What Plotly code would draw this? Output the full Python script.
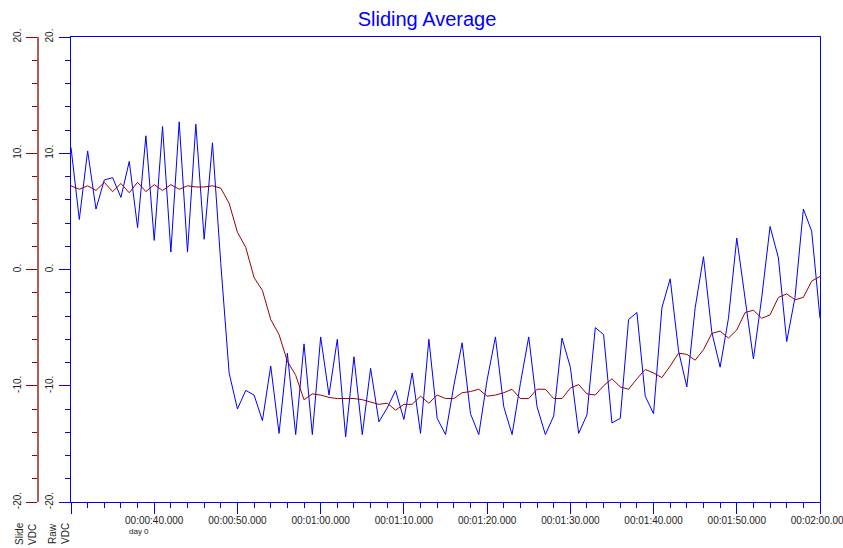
import plotly.graph_objects as go

# Sample times in seconds (one sample per second)
seconds = list(range(30, 121))

# Raw voltage readings (VDC)
raw_vdc = [
    10.5, 4.3, 10.2, 5.2, 7.7, 7.9, 6.2, 9.3, 3.6, 11.5,
    2.5, 12.3, 1.5, 12.7, 1.5, 12.5, 2.6, 10.9, 0.5, -8.9,
    -12.0, -10.4, -10.8, -13.0, -8.3, -14.1, -7.2, -14.2, -6.4, -14.2,
    -5.8, -10.8, -6.0, -14.4, -7.5, -14.2, -8.5, -13.1, -11.9, -10.4,
    -12.9, -8.9, -14.1, -6.0, -12.8, -14.2, -10.0, -6.3, -12.4, -14.2,
    -9.5, -5.8, -11.8, -14.2, -9.8, -5.8, -11.8, -14.2, -12.6, -5.9,
    -8.4, -14.1, -12.5, -5.0, -5.6, -13.2, -12.8, -4.3, -3.7, -10.9,
    -12.4, -3.3, -0.8, -7.0, -10.1, -3.3, 1.1, -5.4, -8.4, -4.2,
    2.7, -2.7, -7.7, -2.4, 3.7, 1.0, -6.2, -2.4, 5.2, 3.3,
    -4.2,
]

# Sliding average of the raw readings (VDC)
slide_vdc = [
    7.2, 6.9, 7.2, 6.8, 7.5, 6.7, 7.4, 6.6, 7.5, 6.7,
    7.3, 6.8, 7.3, 6.9, 7.2, 7.1, 7.1, 7.2, 7.0, 5.7,
    3.2, 1.9, -0.7, -1.8, -4.3, -5.6, -7.9, -9.1, -11.2, -10.7,
    -10.8, -11.0, -11.1, -11.1, -11.1, -11.2, -11.4, -11.6, -11.5, -12.1,
    -11.6, -11.6, -10.9, -11.5, -10.8, -11.1, -11.1, -10.6, -10.5, -10.3,
    -10.9, -10.8, -10.6, -10.3, -11.1, -11.1, -10.3, -10.3, -11.1, -11.1,
    -10.2, -9.9, -10.7, -10.8, -10.0, -9.4, -10.1, -10.3, -9.4, -8.6,
    -8.9, -9.3, -8.3, -7.2, -7.3, -7.8, -6.9, -5.5, -5.3, -5.9,
    -5.2, -3.7, -3.5, -4.2, -3.9, -2.4, -2.1, -2.6, -2.4, -1.0,
    -0.6,
]

# Axis ticks and labels
x_tick_values = [30, 40, 50, 60, 70, 80, 90, 100, 110, 120]
x_tick_labels = ["", "00:00:40.000", "00:00:50.000", "00:01:00.000",
                 "00:01:10.000", "00:01:20.000", "00:01:30.000",
                 "00:01:40.000", "00:01:50.000", "00:02:00.000"]
y_tick_values = [-20, -10, 0, 10, 20]
y_tick_labels = ["-20.", "-10.", "0.", "10.", "20."]

W, H = 843, 548
BLUE = "#0000FF"
AXIS_RED = "#B05A5A"
LINE_RED = "#990000"
FONT = "Liberation Sans, Arial, sans-serif"
TICK_FONT = dict(family=FONT, size=10, color="#222222")

fig = go.Figure()
fig.add_trace(go.Scatter(x=seconds, y=raw_vdc, mode="lines",
                         line=dict(color=BLUE, width=1), yaxis="y",
                         name="Raw VDC", showlegend=False))
fig.add_trace(go.Scatter(x=seconds, y=slide_vdc, mode="lines",
                         line=dict(color=LINE_RED, width=1), yaxis="y2",
                         name="Slide VDC", showlegend=False))

x0, x1 = 71 / W, 820 / W

fig.update_layout(
    width=W, height=H,
    margin=dict(l=0, r=0, t=37, b=46, pad=0, autoexpand=False),
    paper_bgcolor="white", plot_bgcolor="white",
    title=dict(text="Sliding Average", x=427 / W, xanchor="center",
               y=1 - 19 / H, yanchor="middle",
               font=dict(family=FONT, size=20, color=BLUE)),
    xaxis=dict(
        domain=[x0, x1], range=[30, 120], automargin=False,
        showgrid=False, zeroline=False,
        showline=True, linecolor=BLUE, linewidth=1, mirror=True,
        ticks="outside", ticklen=11, tickcolor=BLUE, tickwidth=1,
        tickvals=x_tick_values, ticktext=x_tick_labels,
        tickfont=TICK_FONT, tickangle=0, ticklabeloverflow="allow",
        ticklabelstandoff=-2,
        minor=dict(dtick=2, tick0=30, ticks="outside", ticklen=5,
                   tickcolor=BLUE, tickwidth=1, showgrid=False),
    ),
    yaxis=dict(
        range=[-20, 20], anchor="x", side="left", automargin=False,
        showgrid=False, zeroline=False,
        showline=True, linecolor=BLUE, linewidth=1, mirror=True,
        ticks="outside", ticklen=11, tickcolor=BLUE, tickwidth=1,
        tickvals=y_tick_values, ticktext=y_tick_labels,
        tickangle=-90, tickfont=TICK_FONT, ticklabelstandoff=2,
        minor=dict(dtick=2, tick0=0, ticks="outside", ticklen=5,
                   tickcolor=BLUE, tickwidth=1, showgrid=False),
    ),
    yaxis2=dict(
        range=[-20, 20], overlaying="y", anchor="free", automargin=False,
        position=38 / W, side="left",
        showgrid=False, zeroline=False,
        showline=True, linecolor=AXIS_RED, linewidth=2,
        ticks="outside", ticklen=11, tickcolor=LINE_RED, tickwidth=1,
        tickvals=y_tick_values, ticktext=y_tick_labels,
        tickangle=-90, tickfont=TICK_FONT, ticklabelstandoff=1,
        minor=dict(dtick=2, tick0=0, ticks="outside", ticklen=5,
                   tickcolor=LINE_RED, tickwidth=1, showgrid=False),
    ),
)

# Day marker under the first time label
fig.add_annotation(text="day 0", xref="paper", yref="paper",
                   x=127 / W, y=-(531 - 502) / (H - 37 - 46),
                   xanchor="left", yanchor="middle", showarrow=False,
                   font=dict(family=FONT, size=8, color="#222222"))

# Axis titles, written vertically under each value axis
for label, cx in (("Slide<br>VDC", 26), ("Raw<br>VDC", 59)):
    fig.add_annotation(text=label, xref="paper", yref="paper",
                       x=cx / W, y=-(534 - 502) / (H - 37 - 46),
                       xanchor="center", yanchor="middle",
                       textangle=-90, align="left", showarrow=False,
                       font=dict(family=FONT, size=10, color="#222222"))

fig.write_html("out.html")
